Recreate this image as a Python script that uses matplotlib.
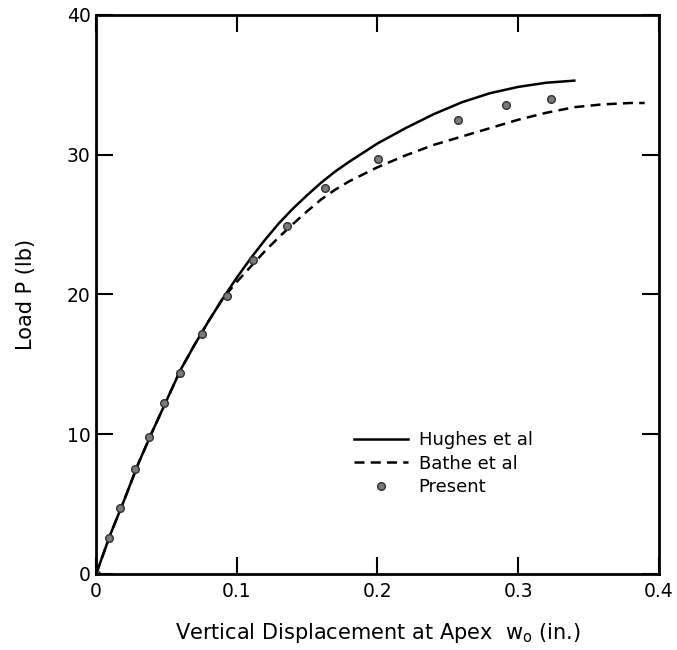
import matplotlib
matplotlib.use("Agg")
import matplotlib.pyplot as plt

# load-displacement curves at the apex
hughes_w = [0.0, 0.01, 0.02, 0.03, 0.04, 0.05, 0.06, 0.07, 0.08, 0.09, 0.10,
            0.11, 0.12, 0.13, 0.14, 0.15, 0.16, 0.17, 0.18, 0.20, 0.22, 0.24,
            0.26, 0.28, 0.30, 0.32, 0.34]
hughes_p = [0.0, 2.8, 5.3, 7.9, 10.2, 12.4, 14.6, 16.4, 18.1, 19.7, 21.2,
            22.6, 23.9, 25.1, 26.15, 27.1, 28.0, 28.8, 29.5, 30.8, 31.9, 32.9,
            33.75, 34.4, 34.85, 35.15, 35.3]

bathe_w = [0.0, 0.01, 0.02, 0.03, 0.04, 0.05, 0.06, 0.07, 0.08, 0.09, 0.10,
           0.11, 0.12, 0.13, 0.14, 0.15, 0.16, 0.17, 0.18, 0.20, 0.22, 0.24,
           0.26, 0.28, 0.30, 0.32, 0.34, 0.36, 0.38, 0.39]
bathe_p = [0.0, 2.8, 5.3, 7.9, 10.2, 12.4, 14.6, 16.4, 18.1, 19.7, 20.9,
           22.0, 23.1, 24.1, 25.05, 25.95, 26.8, 27.5, 28.1, 29.1, 29.95, 30.7,
           31.3, 31.9, 32.5, 33.0, 33.4, 33.6, 33.7, 33.7]

present_w = [0.0, 0.0094, 0.017, 0.0279, 0.0374, 0.0484, 0.0596, 0.0754, 0.0934,
             0.1117, 0.1356, 0.1626, 0.2007, 0.2572, 0.2913, 0.3231]
present_p = [0.0, 2.6, 4.7, 7.5, 9.8, 12.2, 14.4, 17.2, 19.9,
             22.5, 24.9, 27.6, 29.7, 32.5, 33.55, 33.95]

x_ticks = [0, 0.1, 0.2, 0.3, 0.4]
x_tick_labels = ["0", "0.1", "0.2", "0.3", "0.4"]
y_ticks = [0, 10, 20, 30, 40]

fig = plt.figure(figsize=(6.77, 6.5), dpi=100)
ax = fig.add_axes([0.142, 0.117, 0.831, 0.860])

ax.plot(hughes_w, hughes_p, color="black", lw=1.8, label="Hughes et al")
ax.plot(bathe_w, bathe_p, color="black", lw=1.8, dashes=(4, 2.5),
        label="Bathe et al")
ax.plot(present_w, present_p, ls="none", marker="o", ms=5.5,
        mfc="#7a7a7a", mec="#303030", mew=1.0, label="Present")

ax.set_xlim(0, 0.4)
ax.set_ylim(0, 40)
ax.set_xticks(x_ticks)
ax.set_xticklabels(x_tick_labels)
ax.set_yticks(y_ticks)

for s in ax.spines.values():
    s.set_linewidth(2.0)

ax.tick_params(direction="in", length=12, width=1.5, labelsize=13.5,
               top=True, right=True, pad=6)
ax.tick_params(axis="y", pad=4)

ax.set_xlabel(r"Vertical Displacement at Apex  $\mathregular{w_o}$ (in.)",
              fontsize=15, labelpad=14)
ax.set_ylabel("Load P (lb)", fontsize=15, labelpad=22)

ax.legend(loc="upper left", bbox_to_anchor=(0.445, 0.268), frameon=False,
          fontsize=13, handlelength=3.0, handletextpad=0.6, labelspacing=0.3,
          borderaxespad=0)

fig.savefig("out.png", dpi=100)
